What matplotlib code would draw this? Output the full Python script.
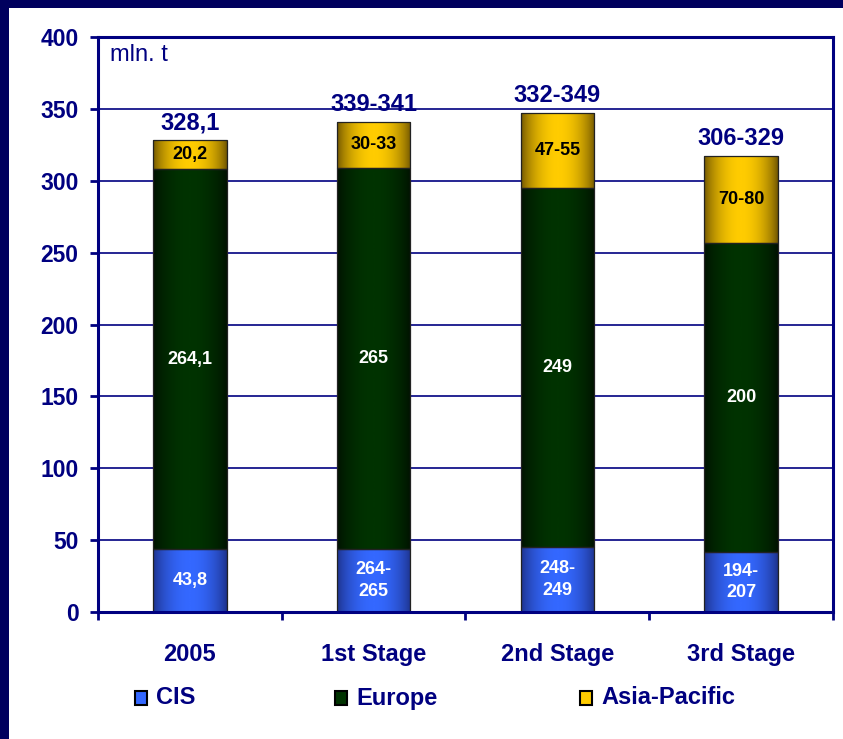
import numpy as np
import matplotlib
matplotlib.use("Agg")
import matplotlib.pyplot as plt
from matplotlib.patches import Rectangle
from matplotlib.colors import LinearSegmentedColormap

# data (bar heights as drawn, labels as printed)
categories = ["2005", "1st Stage", "2nd Stage", "3rd Stage"]
cis = [43.8, 44, 45, 42]
europe = [264.1, 265, 250, 215]
asia = [20.2, 32, 52, 60]
cis_labels = ["43,8", "264-\n265", "248-\n249", "194-\n207"]
europe_labels = ["264,1", "265", "249", "200"]
asia_labels = ["20,2", "30-33", "47-55", "70-80"]
total_labels = ["328,1", "339-341", "332-349", "306-329"]
series_names = ["CIS", "Europe", "Asia-Pacific"]

NAVY = "#000080"
BG = "#00005e"
# (dark edge, bright centre) for each series
shades = [("#1c2f85", "#3468ff"), ("#001000", "#003300"), ("#6a5000", "#ffcc00")]

plt.rcParams["font.family"] = ["Liberation Sans", "DejaVu Sans"]
plt.rcParams["font.weight"] = "bold"

fig = plt.figure(figsize=(8.43, 7.39), dpi=100)
fig.patch.set_facecolor(BG)
fig.patches.append(Rectangle((9 / 843, 0), 1, 1 - 8 / 739, transform=fig.transFigure,
                             facecolor="white", edgecolor="none", zorder=-5))

ax = fig.add_axes([98 / 843, 1 - 612 / 739, 735 / 843, 575 / 739])
ax.set_zorder(1)
ax.set_facecolor("white")

x = np.arange(len(categories)) + 0.5
width = 0.40
t = np.linspace(0, 1, 256)
profile = np.sin(np.pi * t) ** 0.7


def gradient_bars(bars, dark, light):
    cmap = LinearSegmentedColormap.from_list("g", [dark, light])
    for b in bars:
        x0, y0 = b.get_x(), b.get_y()
        im = ax.imshow(profile[None, :], cmap=cmap, vmin=0, vmax=1, aspect="auto",
                       extent=[x0, x0 + b.get_width(), y0, y0 + b.get_height()],
                       interpolation="bicubic", zorder=1.9)
        im.set_clip_path(b)
        b.set_facecolor("none")


bottoms = np.zeros(len(categories))
segments = []
for vals, (dark, light) in zip([cis, europe, asia], shades):
    bars = ax.bar(x, vals, width, bottom=bottoms, edgecolor="#222222", linewidth=0.9, zorder=2)
    gradient_bars(bars, dark, light)
    segments.append(bottoms + np.array(vals) / 2)
    bottoms = bottoms + np.array(vals)

for i in range(len(categories)):
    ax.text(x[i], segments[0][i], cis_labels[i], ha="center", va="center", color="white",
            fontsize=13, fontweight="bold", linespacing=1.35, zorder=3)
    ax.text(x[i], segments[1][i], europe_labels[i], ha="center", va="center", color="white",
            fontsize=13, fontweight="bold", zorder=3)
    ax.text(x[i], segments[2][i], asia_labels[i], ha="center", va="center", color="black",
            fontsize=13, fontweight="bold", zorder=3)
    ax.annotate(total_labels[i], (x[i], bottoms[i]), xytext=(0, 12.5), textcoords="offset points",
                ha="center", va="center", color=NAVY, fontsize=17, fontweight="bold", zorder=3)

ax.set_xlim(0, 4)
ax.set_ylim(0, 400)
ax.set_yticks(np.arange(0, 401, 50))
ax.yaxis.grid(True, color=NAVY, linewidth=1.2)
ax.set_axisbelow(True)

ax.set_xticks(np.arange(0, 5))
ax.set_xticklabels([])
ax.set_xticks(x, minor=True)
ax.set_xticklabels(categories, minor=True)
ax.tick_params(axis="x", which="major", length=6, width=2, color=NAVY, direction="out")
ax.tick_params(axis="x", which="minor", length=0, pad=22, labelsize=17, labelcolor=NAVY)
ax.tick_params(axis="y", length=6, width=2, color=NAVY, direction="out", pad=8,
               labelsize=16.5, labelcolor=NAVY)
for lab in ax.get_xticklabels(minor=True) + ax.get_yticklabels():
    lab.set_fontweight("bold")

for side in ["left", "bottom", "top", "right"]:
    ax.spines[side].set_color(NAVY)
    ax.spines[side].set_linewidth(2.2)

ax.text(0.016, 0.968, "mln. t", transform=ax.transAxes, ha="left", va="center",
        color=NAVY, fontsize=17, fontweight="normal")

# legend drawn by hand
leg_x = [135, 335, 580]
for name, (dark, light), lx in zip(series_names, shades, leg_x):
    fig.patches.append(Rectangle((lx / 843, 1 - 705 / 739), 12 / 843, 14 / 739,
                                 transform=fig.transFigure, facecolor=light,
                                 edgecolor="black", linewidth=1.5, zorder=3))
    fig.text((lx + 21) / 843, 1 - 698 / 739, name, ha="left", va="center", color=NAVY,
             fontsize=17, fontweight="bold")

fig.savefig("out.png", dpi=100, facecolor=fig.get_facecolor())
